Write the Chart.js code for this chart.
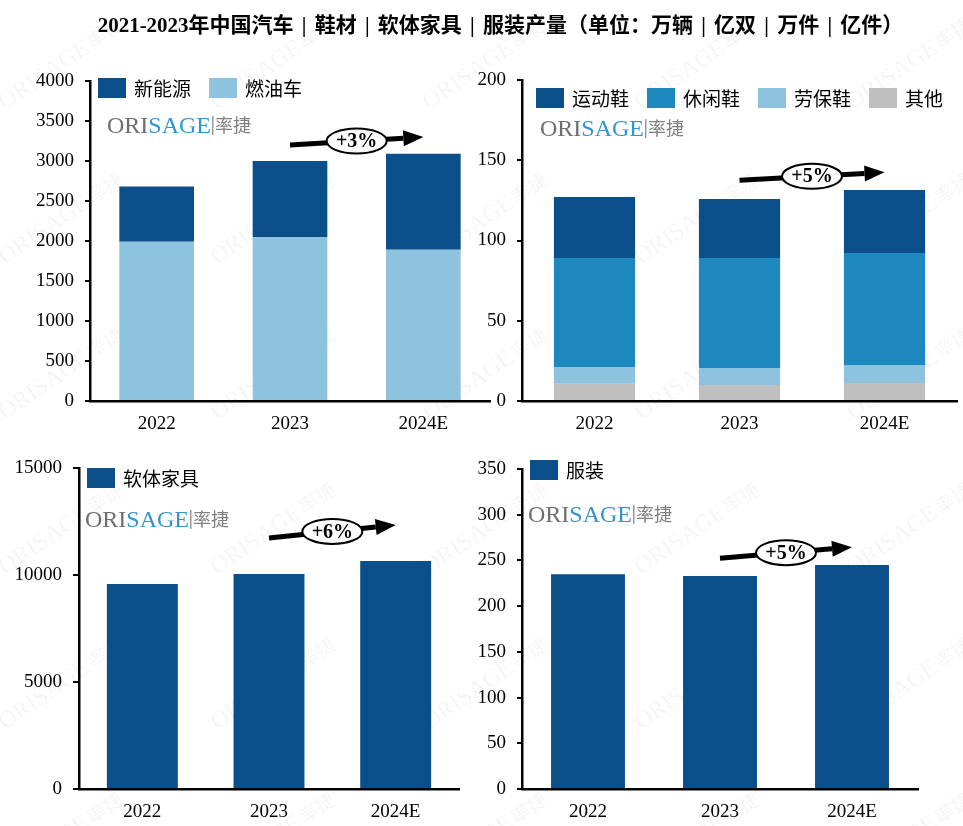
<!DOCTYPE html>
<html>
<head>
<meta charset="utf-8">
<title>中国汽车 | 鞋材 | 软体家具 | 服装产量</title>
<script src="https://cdn.jsdelivr.net/npm/chart.js@4.4.1/dist/chart.umd.min.js"></script>
<style>
  body { margin: 0; background: #fff; width: 963px; height: 826px; position: relative; overflow: hidden; }
  #wm { position: absolute; left: 0; top: 0; }
  #title { position: absolute; left: 38px; top: 8px; width: 925px; text-align: center; word-spacing: 3px;
           font: bold 21px "Liberation Serif", "Noto Sans CJK SC"; color: #000; white-space: nowrap; }
  .box { position: absolute; }
</style>
</head>
<body>
<canvas id="wm" width="963" height="826"></canvas>
<div id="title">2021-2023年中国汽车 | 鞋材 | 软体家具 | 服装产量（单位：万辆 | 亿双 | 万件 | 亿件）</div>
<div class="box" style="left:0;top:50px;width:494px;height:390px"><canvas id="cars"></canvas></div>
<div class="box" style="left:460px;top:50px;width:503px;height:390px"><canvas id="shoes"></canvas></div>
<div class="box" style="left:0;top:440px;width:470px;height:386px"><canvas id="furniture"></canvas></div>
<div class="box" style="left:460px;top:440px;width:503px;height:386px"><canvas id="apparel"></canvas></div>

<script>
// data
const years = ['2022', '2023', '2024E'];
const nevCars = [690, 950, 1200];
const fuelCars = [1990, 2050, 1890];
const sportShoes = [38.0, 36.8, 39.3];
const casualShoes = [67.9, 68.5, 69.8];
const workShoes = [10.4, 10.6, 11.2];
const otherShoes = [10.8, 10.0, 11.2];
const furniture = [9580, 10050, 10650];
const apparel = [235, 233, 245];
const growth = ['+3%', '+5%', '+6%', '+5%'];

const DARK = '#0b4f8a', MID = '#1d88bd', LIGHT = '#8dc3de', GREY = '#bfbfbf';

// faint background watermark
(function () {
  const ctx = document.getElementById('wm').getContext('2d');
  ctx.fillStyle = 'rgba(0,0,0,0.04)';
  for (let r = 0; r < 6; r++) {
    for (let c = 0; c < 5; c++) {
      ctx.save();
      ctx.translate(5 + c * 212, 110 + r * 155);
      ctx.rotate(-0.6);
      ctx.font = '24px "Liberation Serif"';
      ctx.fillText('ORISAGE', 0, 0);
      const w = ctx.measureText('ORISAGE').width;
      ctx.font = '19px "Noto Sans CJK SC"';
      ctx.fillText('率捷', w + 3, 0);
      ctx.restore();
    }
  }
})();

Chart.defaults.font.family = '"Liberation Serif", "Noto Sans CJK SC"';
Chart.defaults.font.size = 19;
Chart.defaults.color = '#000';

// legend, logo and growth arrow drawn inside the plot
const decoPlugin = {
  id: 'deco',
  afterDatasetsDraw(chart, args, o) {
    const ctx = chart.ctx, a = chart.chartArea;
    const xs = chart.scales.x, ys = chart.scales.y;
    ctx.save();

    // legend
    let lx = a.left + o.legend[0], ly = a.top + o.legend[1];
    ctx.font = '19px "Noto Sans CJK SC"';
    ctx.textBaseline = 'middle';
    ctx.textAlign = 'left';
    o.order.forEach(i => {
      const ds = chart.data.datasets[i];
      ctx.fillStyle = ds.backgroundColor;
      ctx.fillRect(lx, ly, 28, 20);
      ctx.fillStyle = '#000';
      ctx.fillText(ds.label, lx + 36, ly + 11);
      lx += 36 + ctx.measureText(ds.label).width + 18;
    });

    // logo
    let gx = a.left + o.logo[0], gy = a.top + o.logo[1];
    ctx.textBaseline = 'alphabetic';
    ctx.font = '24px "Liberation Serif"';
    ctx.fillStyle = '#6e6e6e';
    ctx.fillText('ORI', gx, gy);
    gx += ctx.measureText('ORI').width;
    ctx.fillStyle = '#2f95cf';
    ctx.fillText('SAGE', gx, gy);
    gx += ctx.measureText('SAGE').width + 1;
    ctx.fillStyle = '#9a9a9a';
    ctx.fillRect(gx, gy - 17, 1.5, 19);
    gx += 3;
    ctx.font = '18px "Noto Sans CJK SC"';
    ctx.fillStyle = '#808080';
    ctx.fillText('率捷', gx, gy - 1);

    // growth arrow
    const [i0, v0, i1, v1] = o.arrow;
    const x0 = xs.getPixelForValue(i0), y0 = ys.getPixelForValue(v0);
    const x1 = xs.getPixelForValue(i1), y1 = ys.getPixelForValue(v1);
    const ang = Math.atan2(y1 - y0, x1 - x0), hl = 20;
    ctx.strokeStyle = '#000';
    ctx.fillStyle = '#000';
    ctx.lineWidth = 5;
    ctx.beginPath();
    ctx.moveTo(x0, y0);
    ctx.lineTo(x1 - hl * Math.cos(ang), y1 - hl * Math.sin(ang));
    ctx.stroke();
    ctx.save();
    ctx.translate(x1, y1);
    ctx.rotate(ang);
    ctx.beginPath();
    ctx.moveTo(0, 0);
    ctx.lineTo(-hl, -8);
    ctx.lineTo(-hl, 8);
    ctx.closePath();
    ctx.fill();
    ctx.restore();
    const cx = (x0 + x1) / 2, cy = (y0 + y1) / 2;
    ctx.beginPath();
    ctx.ellipse(cx, cy, 30, 12.5, 0, 0, Math.PI * 2);
    ctx.fillStyle = '#fff';
    ctx.fill();
    ctx.lineWidth = 2;
    ctx.stroke();
    ctx.font = 'bold 20px "Liberation Serif"';
    ctx.textAlign = 'center';
    ctx.textBaseline = 'middle';
    ctx.fillStyle = '#000';
    ctx.fillText(o.text, cx, cy + 1);
    ctx.restore();
  }
};

function makeChart(id, c) {
  return new Chart(document.getElementById(id), {
    type: 'bar',
    data: {
      labels: years,
      datasets: c.datasets.map(d => ({
        label: d[0], data: d[1], backgroundColor: d[2],
        barPercentage: 0.56, categoryPercentage: 1
      }))
    },
    options: {
      responsive: true,
      maintainAspectRatio: false,
      animation: false,
      layout: { padding: { top: c.padTop, right: c.padRight, left: 0, bottom: 0 } },
      plugins: {
        legend: { display: false },
        tooltip: { enabled: false },
        deco: c.deco
      },
      scales: {
        x: {
          stacked: true,
          grid: { display: false },
          border: { display: true, color: '#000', width: 2.5 },
          ticks: { padding: 4 },
          afterFit: s => { s.height = c.xHeight; }
        },
        y: {
          stacked: true,
          min: 0,
          max: c.max,
          ticks: { stepSize: c.step, padding: 11, callback: v => String(v) },
          grid: { drawOnChartArea: false, tickLength: c.tick || 5, color: '#000', lineWidth: 2 },
          border: { color: '#000', width: 2.5 },
          afterFit: s => { s.width = c.yWidth; }
        }
      }
    },
    plugins: [decoPlugin]
  });
}

makeChart('cars', {
  datasets: [['燃油车', fuelCars, LIGHT], ['新能源', nevCars, DARK]],
  max: 4000, step: 500, padTop: 31, padRight: 4, xHeight: 39, yWidth: 90,
  deco: { order: [1, 0], legend: [8, -3], logo: [17, 52], arrow: [1, 3200, 2, 3300], text: growth[0] }
});

makeChart('shoes', {
  datasets: [['其他', otherShoes, GREY], ['劳保鞋', workShoes, LIGHT],
             ['休闲鞋', casualShoes, MID], ['运动鞋', sportShoes, DARK]],
  max: 200, step: 50, padTop: 30, padRight: 6, xHeight: 39, yWidth: 62,
  deco: { order: [3, 2, 1, 0], legend: [14, 8], logo: [18, 56], arrow: [1, 137.5, 2, 142.5], text: growth[1] }
});

makeChart('furniture', {
  datasets: [['软体家具', furniture, DARK]],
  max: 15000, step: 5000, padTop: 28, padRight: 11, xHeight: 37, yWidth: 79, tick: 6,
  deco: { order: [0], legend: [8, 0], logo: [6, 59], arrow: [1, 11730, 2, 12340], text: growth[2] }
});

makeChart('apparel', {
  datasets: [['服装', apparel, DARK]],
  max: 350, step: 50, padTop: 29, padRight: 45, xHeight: 37, yWidth: 62,
  deco: { order: [0], legend: [8, -9], logo: [6, 53], arrow: [1, 252.5, 2, 264.5], text: growth[3] }
});
</script>
</body>
</html>
